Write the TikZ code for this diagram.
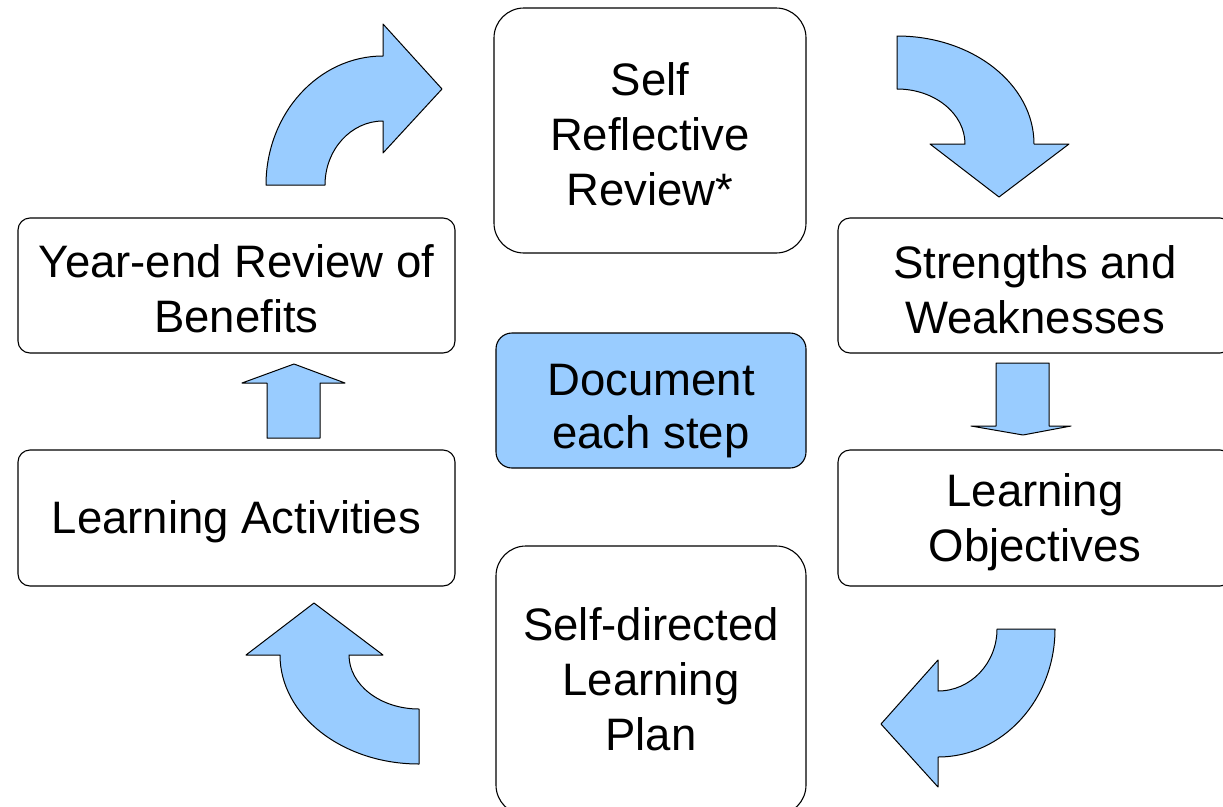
\documentclass[tikz,border=0pt]{standalone}
\usepackage{fontspec}
\setmainfont{Liberation Sans}
\usepackage{tikz}
\usetikzlibrary{positioning}
\definecolor{stepblue}{HTML}{99CCFF}

\begin{document}
\begin{tikzpicture}[
    x=1pt, y=-1pt,
    stage/.style={rectangle, rounded corners=12pt, draw=black, line width=1.1pt, fill=white, align=center, font=\fontsize{45.5}{55}\selectfont},
    bigstage/.style={stage, rounded corners=30pt},
    turn/.style={draw=black, line width=1pt, fill=stepblue, line join=round}
]
\useasboundingbox (0,0) rectangle (1223,806);

% Stages
\node[bigstage, minimum width=312pt, minimum height=245pt, text height=151pt] (review) at (650,130.5) {Self\\Reflective\\Review*};
\node[stage, minimum width=394pt, minimum height=135pt, text height=96pt] (strengths) at (1035,285.5) {Strengths and\\Weaknesses};
\node[stage, minimum width=394pt, minimum height=136pt, text height=96pt] (objectives) at (1035,518) {Learning\\Objectives};
\node[bigstage, minimum width=310pt, minimum height=269pt, text height=140pt] (plan) at (651,680.5) {Self-directed\\Learning\\Plan};
\node[stage, minimum width=437pt, minimum height=136pt, text height=41pt] (activities) at (236.5,518) {Learning Activities};
\node[stage, minimum width=437pt, minimum height=135pt, text height=94pt] (yearend) at (236.5,285.5) {Year-end Review of\\Benefits};
\node[stage, rounded corners=16pt, fill=stepblue, minimum width=310pt, minimum height=135pt, text height=106pt] (doc) at (651,400.5) {Document\\[-2pt]each step};

% Arrows
\draw[turn] (266,185) .. controls (266,113.8) and (318.4,56) .. (383,56)
    -- (383,24) -- (442,89) -- (383,153) -- (383,121)
    .. controls (351,121) and (325,149.7) .. (325,185) -- cycle;
\draw[turn] (897,36) .. controls (972.6,36) and (1034,84.4) .. (1034,144)
    -- (1069,144) -- (999,197) -- (930,144) -- (965,144)
    .. controls (965,113.6) and (934.5,89) .. (897,89) -- cycle;
\draw[turn] (996,363) -- (1049,363) -- (1049,426) -- (1071,426) -- (1023,435) -- (971,426) -- (996,426) -- cycle;
\draw[turn] (1055,629) .. controls (1055,699.7) and (1002.6,757) .. (938,757)
    -- (938,787) -- (881,724) -- (938,660) -- (938,691)
    .. controls (970.6,691) and (997,663.2) .. (997,629) -- cycle;
\draw[turn] (280,655) .. controls (280,715.2) and (342.3,764) .. (419,764)
    -- (419,709) .. controls (380.4,709) and (349,684.8) .. (349,655)
    -- (383,655) -- (314,603) -- (246,655) -- cycle;
\draw[turn] (267,438) -- (267,383) -- (242,383) -- (294,364) -- (345,383) -- (320,383) -- (320,438) -- cycle;
\end{tikzpicture}
\end{document}
